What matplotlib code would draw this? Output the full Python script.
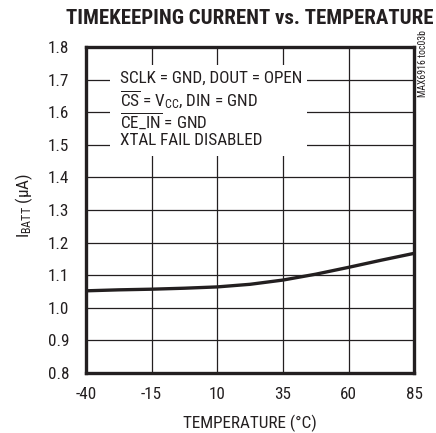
import numpy as np
import matplotlib
matplotlib.use("Agg")
import matplotlib.pyplot as plt
from matplotlib.patches import Rectangle
from matplotlib import font_manager

# ----------------------- data ---------------------------------------------- #
temp_c = [-40, -27.5, -15, -2.5, 10, 22.5, 35, 47.5, 60, 72.5, 85]
i_batt = [1.052, 1.055, 1.057, 1.060, 1.064, 1.072, 1.085, 1.103, 1.124, 1.146, 1.167]

x_ticks = [-40, -15, 10, 35, 60, 85]
y_ticks = [0.8, 0.9, 1.0, 1.1, 1.2, 1.3, 1.4, 1.5, 1.6, 1.7, 1.8]

note_lines = [
    "SCLK = GND, DOUT = OPEN",
    r"$\overline{\mathrm{CS}}$ = V$_{\mathrm{CC}}$, DIN = GND",
    r"$\overline{\mathrm{CE\_IN}}$ = GND",
    "XTAL FAIL DISABLED",
]

#-----------------------------------------------------------------------------#

names = {f.name for f in font_manager.fontManager.ttflist}

def pick(cands, default="Liberation Sans"):
    for c in cands:
        if c in names:
            return c
    return default

body = pick(["Roboto Condensed", "Liberation Sans Narrow", "PT Sans Narrow",
             "Archivo Narrow", "Asap Condensed"])
head = pick(["Roboto Condensed", "Barlow Condensed", "Asap Condensed"], body)

plt.rcParams["font.family"] = [body, "DejaVu Sans"]
plt.rcParams["mathtext.fontset"] = "custom"
plt.rcParams["mathtext.rm"] = body
plt.rcParams["mathtext.it"] = body

ink = "#231f20"
fs = 12.3

fig = plt.figure(figsize=(4.36, 4.33), dpi=100)
ax = fig.add_axes([0.197, 0.1386, 0.753, 0.753])

# curve
ax.plot(temp_c, i_batt, color=ink, lw=2.4, zorder=5)

ax.set_xlim(-40, 85)
ax.set_ylim(0.8, 1.8)
ax.set_xticks(x_ticks)
ax.set_yticks(y_ticks)
ax.set_xticklabels([str(t) for t in x_ticks])
ax.set_yticklabels(["%.1f" % t for t in y_ticks])
ax.tick_params(length=0, labelsize=fs, colors=ink)
ax.tick_params(axis="x", pad=10)
ax.tick_params(axis="y", pad=12)
ax.grid(True, color=ink, lw=0.9)
for s in ax.spines.values():
    s.set_linewidth(2.4)
    s.set_color(ink)

# white box behind the notes
ax.add_patch(Rectangle((-30.8, 1.466), 75.0, 0.279, facecolor="white",
                       edgecolor="none", zorder=3))
for txt, yv in zip(note_lines, [1.705, 1.637, 1.573, 1.512]):
    ax.text(-27.0, yv, txt, fontsize=fs, va="center", ha="left",
            color=ink, zorder=4)

ax.set_xlabel("TEMPERATURE (°C)", fontsize=fs, color=ink, va="center")
ax.xaxis.set_label_coords(0.5, -0.153)
ax.set_ylabel(r"I$_{\mathrm{BATT}}$ ($\mu$A)", fontsize=fs, color=ink, va="center")
ax.yaxis.set_label_coords(-0.189, 0.515)

fig.text(0.572, 0.958, "TIMEKEEPING CURRENT vs. TEMPERATURE", ha="center",
         va="center", fontsize=15, fontweight="heavy", family=head, color=ink)
fig.text(0.970, 0.854, "MAX6916 toc03b", rotation=90, ha="center", va="center",
         fontsize=7, color=ink)

fig.savefig("out.png", dpi=100)
